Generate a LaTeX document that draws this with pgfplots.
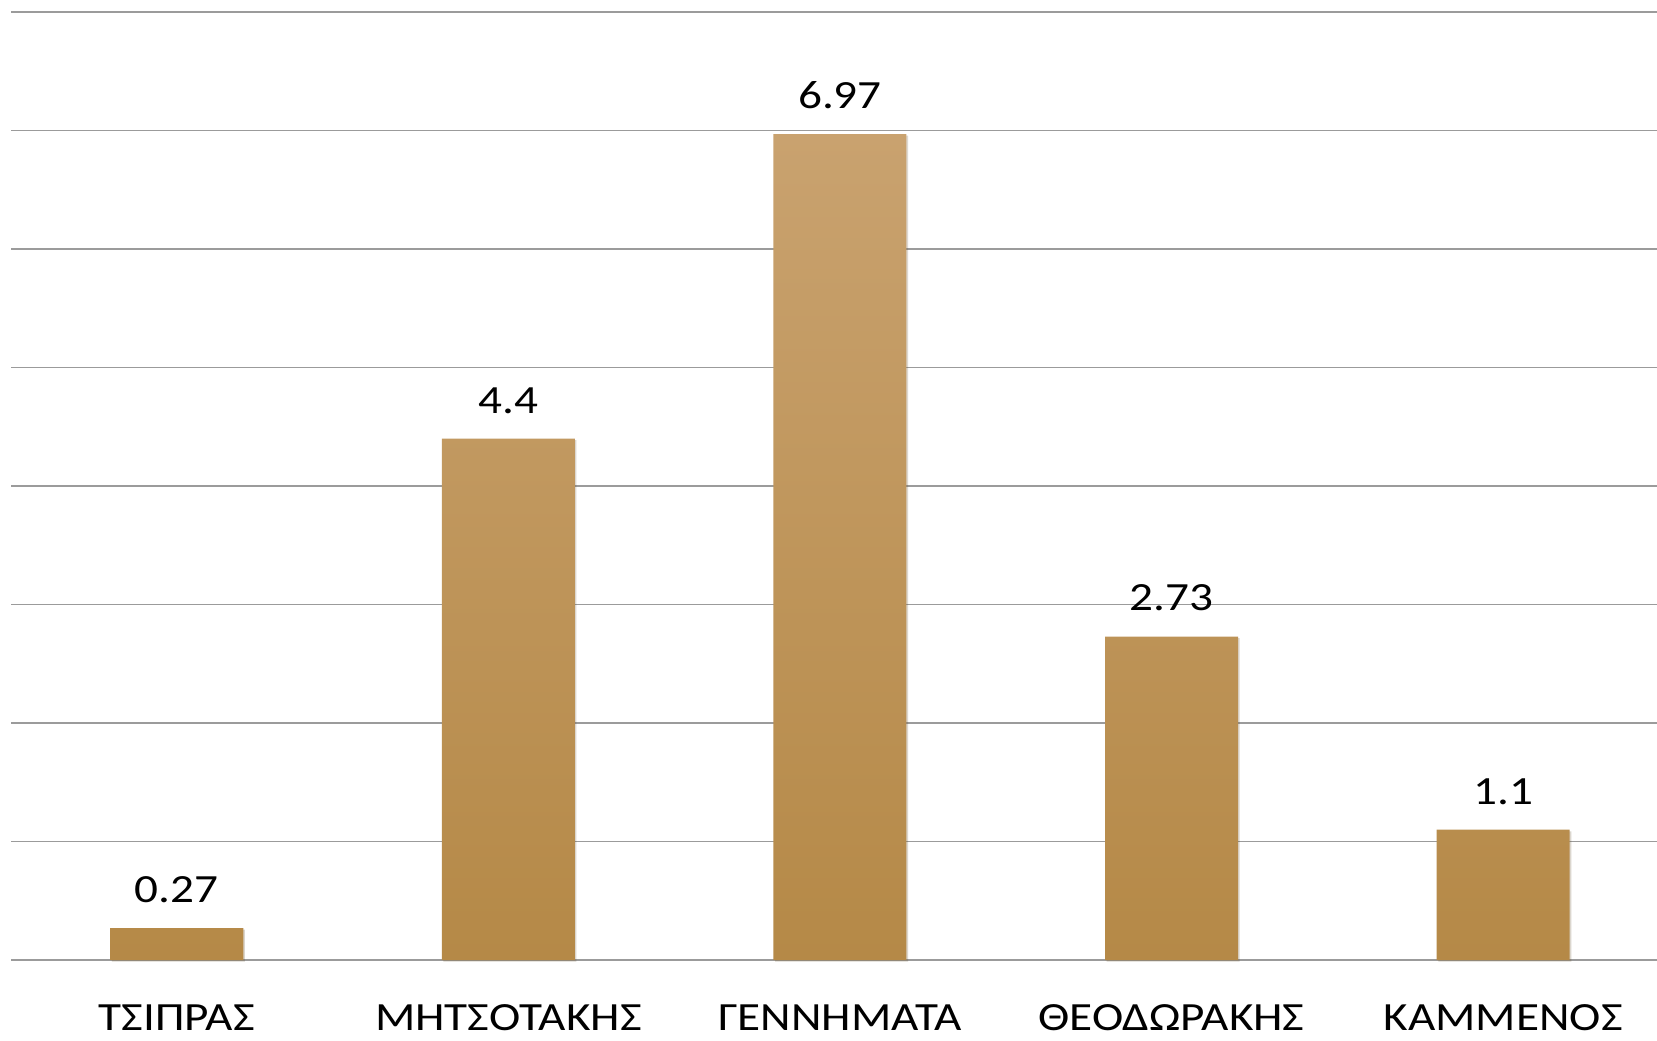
\documentclass[border=0pt]{standalone}
\usepackage{pgfplots}
\pgfplotsset{compat=1.18}
\usepackage{fontspec}
\setmainfont[FakeStretch=1.18]{Carlito}
\definecolor{bartop}{RGB}{201,162,111}
\definecolor{barmid}{RGB}{196,154,90}
\definecolor{barbot}{RGB}{181,137,71}
\definecolor{gridc}{RGB}{155,155,155}
\begin{document}
\begin{tikzpicture}
\begin{axis}[
  at={(0,0)}, anchor=south west,
  scale only axis,
  width=823pt, height=474pt,
  xmin=-0.5, xmax=4.464,
  ymin=0, ymax=8,
  axis line style={draw=none},
  tick style={draw=none},
  ybar, bar width=66.5pt,
  ytick={0,1,...,8},
  ymajorgrids,
  grid style={gridc, line width=0.9pt},
  xtick=data,
  xticklabels={ΤΣΙΠΡΑΣ, ΜΗΤΣΟΤΑΚΗΣ, ΓΕΝΝΗΜΑΤΑ, ΘΕΟΔΩΡΑΚΗΣ, ΚΑΜΜΕΝΟΣ},
  yticklabels={},
  xticklabel style={font=\fontsize{20}{24}\selectfont, anchor=base, yshift=-35.2pt},
  major tick length=0pt,
  clip=false,
  nodes near coords,
  every node near coord/.append style={font=\fontsize{20}{24}\selectfont, anchor=base, yshift=12.8pt, text=black},
  point meta=explicit symbolic,
]
\addplot[draw=none, top color=bartop, middle color=barmid, bottom color=barbot,
  preaction={fill=black, fill opacity=0.12, transform canvas={xshift=0.8pt, yshift=-0.8pt}}]
  coordinates {(0,0.27)[0.27] (1,4.4)[4.4] (2,6.97)[6.97] (3,2.73)[2.73] (4,1.1)[1.1]};
\end{axis}
\pgfresetboundingbox
\path[use as bounding box] (-5.5pt,-40pt) rectangle (823pt,480pt);
\end{tikzpicture}
\end{document}
